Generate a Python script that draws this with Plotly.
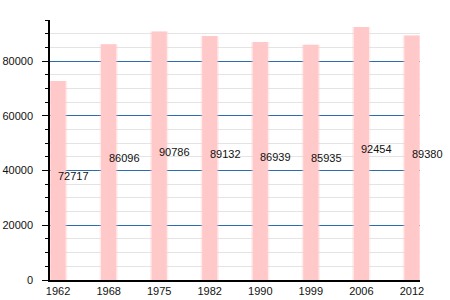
import plotly.graph_objects as go

years = ["1962", "1968", "1975", "1982", "1990", "1999", "2006", "2012"]
population = [72717, 86096, 90786, 89132, 86939, 85935, 92454, 89380]

BAR = "#ffc9c9"
FONT = "Liberation Sans, Arial, sans-serif"

fig = go.Figure()
# soft halo for blurred bar edges
fig.add_trace(go.Bar(x=years, y=population, width=0.36, marker=dict(color="rgba(255,201,201,0.35)", line=dict(width=0)), hoverinfo="skip", showlegend=False))
fig.add_trace(go.Bar(x=years, y=population, width=0.30, marker=dict(color=BAR, line=dict(width=0)), showlegend=False))

for i, v in enumerate(population):
    fig.add_annotation(x=i, y=v / 2, xref="x", yref="y", text=str(v), showarrow=False, xanchor="left", yanchor="middle",
                       xshift=-2, yshift=4, font=dict(family=FONT, size=11, color="#111"))

fig.update_layout(
    width=450, height=300,
    margin=dict(l=50, r=30, t=20, b=20),
    paper_bgcolor="white", plot_bgcolor="white",
    barmode="overlay",
    font=dict(family=FONT, size=11, color="#111"),
    xaxis=dict(type="category", range=[-0.16, 7.16], showgrid=False, showline=True, linecolor="black",
               linewidth=1.5, ticks="", automargin=False, zeroline=False),
    yaxis=dict(range=[0, 95000], dtick=20000, tick0=0, tickformat="d", showgrid=True, gridcolor="#2a6cad",
               gridwidth=1.2, showline=True, linecolor="black", linewidth=1.5, ticks="outside", ticklen=6,
               tickcolor="black", zeroline=False, automargin=False, ticklabelstandoff=7,
               minor=dict(dtick=5000, tick0=0, showgrid=True, gridcolor="#e4e4e4", gridwidth=1,
                          ticks="outside", ticklen=3, tickcolor="black")),
)

fig.write_html("out.html")
